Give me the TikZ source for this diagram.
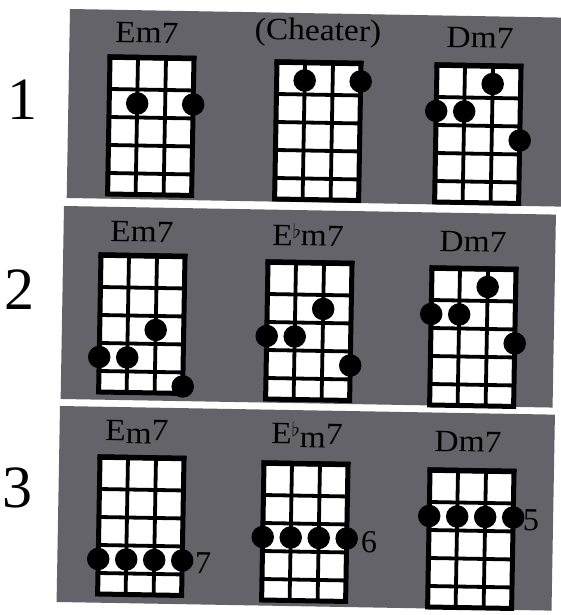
\documentclass[tikz,border=0pt]{standalone}
\usepackage{fontspec}
\setmainfont{Liberation Serif}
\usepackage{graphicx}
\definecolor{panelgray}{HTML}{636369}
\tikzset{
  panel/.style={fill=panelgray, draw=none},
  fretline/.style={line width=3.8pt},
  frameline/.style={line width=5pt},
  nutline/.style={line width=5.5pt},
  fingerdot/.style={circle, fill=black, minimum size=22.5pt, inner sep=0pt},
  chordtitle/.style={font=\fontsize{31}{31}\selectfont, inner sep=0pt, rotate=-1},
  rownum/.style={font=\fontsize{60}{60}\selectfont, inner sep=0pt},
  fretnum/.style={font=\fontsize{32}{32}\selectfont, inner sep=0pt, rotate=-1},
}
\newcommand\widetext[1]{\scalebox{1.08}[1]{#1}}
\newcommand\flatsign{\raisebox{0.5ex}{\scalebox{0.8}{$\flat$}}}
% name, x, y, dots (string/fret)
\newcommand\ukegrid[4]{%
  \begin{scope}[shift={(#2,#3)}, rotate=-1]
    \fill[white] (0,0) rectangle (84,137);
    \foreach \yy in {32,60,88,116} \draw[fretline] (0,\yy) -- (84,\yy);
    \foreach \xx in {28,56} \draw[fretline] (\xx,0) -- (\xx,137);
    \draw[frameline] (0,0) rectangle (84,137);
    \draw[nutline] (-2.5,0) -- (86.5,0);
    \coordinate (#1) at (0,0);
    \foreach \s/\f in {#4} {
      \pgfmathsetmacro\dy{18+(\f-1)*28}
      \node[fingerdot] (#1-\s-\f) at ({(\s-1)*28},\dy) {};
    }
  \end{scope}}
\begin{document}
\begin{tikzpicture}[x=1pt,y=-1pt]
  \useasboundingbox (0,0) rectangle (561,615);
  % panels
  \begin{scope}[shift={(70,9)}, rotate=-1]
    \fill[panel] (0,0) rectangle (510,189);
  \end{scope}
  \begin{scope}[shift={(64,206)}, rotate=-1]
    \fill[panel] (0,0) rectangle (492,193);
  \end{scope}
  \begin{scope}[shift={(60,406)}, rotate=-1]
    \fill[panel] (0,0) rectangle (495,196);
  \end{scope}
  % row numbers
  \node[rownum] (n1) at (22,100) {1};
  \node[rownum] (n2) at (20,290) {2};
  \node[rownum] (n3) at (17,488) {3};
  % row 1
  \node[chordtitle] (t11) at (147,33) {\widetext{Em7}};
  \node[chordtitle] (t12) at (318,33) {\widetext{(Cheater)}};
  \node[chordtitle] (t13) at (480,38) {\widetext{Dm7}};
  \ukegrid{g11}{110}{57}{2/2,4/2}
  \ukegrid{g12}{277}{62}{2/1,4/1}
  \ukegrid{g13}{437}{65}{3/1,1/2,2/2,4/3}
  % row 2
  \node[chordtitle] (t21) at (142,232) {\widetext{Em7}};
  \node[chordtitle] (t22) at (308,235) {\widetext{E\flatsign m7}};
  \node[chordtitle] (t23) at (473,242) {\widetext{Dm7}};
  \ukegrid{g21}{101}{255}{3/3,1/4,2/4,4/5}
  \ukegrid{g22}{268}{262}{3/2,1/3,2/3,4/4}
  \ukegrid{g23}{432}{268}{3/1,1/2,2/2,4/3}
  % row 3
  \node[chordtitle] (t31) at (137,432) {\widetext{E\raisebox{-3pt}{m}7}};
  \node[chordtitle] (t32) at (307,435) {\widetext{E\flatsign\raisebox{-4pt}{m}7}};
  \node[chordtitle] (t33) at (468,442) {\widetext{Dm7}};
  \ukegrid{g31}{100}{457}{1/4,2/4,3/4,4/4}
  \ukegrid{g32}{264}{463}{1/3,2/3,3/3,4/3}
  \ukegrid{g33}{430}{470}{1/2,2/2,3/2,4/2}
  \node[fretnum] (f31) at (203,563) {7};
  \node[fretnum] (f32) at (369,542) {6};
  \node[fretnum] (f33) at (531,520) {5};
\end{tikzpicture}
\end{document}
